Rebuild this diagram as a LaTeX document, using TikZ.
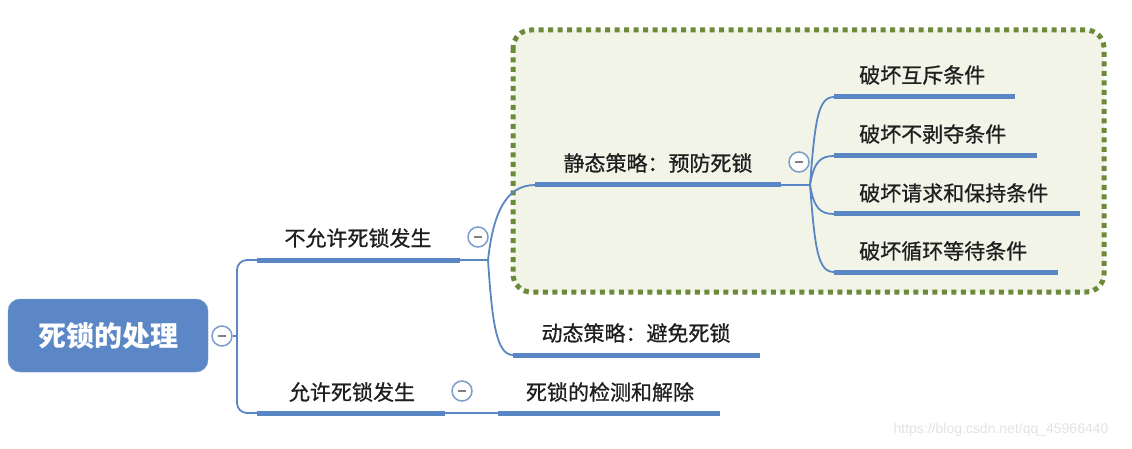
\documentclass[tikz,border=0pt]{standalone}
\usepackage{fontspec}
\setmainfont{Noto Sans CJK SC}
\newfontfamily\topicfont[FakeBold=0.8]{Noto Sans CJK SC}
\newfontfamily\urlfont{Liberation Sans}
\usetikzlibrary{calc}

\definecolor{mapblue}{HTML}{5A86C4}
\definecolor{rootblue}{HTML}{5B87C6}
\definecolor{foldblue}{HTML}{7C9CCB}
\definecolor{boxgreen}{HTML}{6B8A3A}
\definecolor{boxfill}{HTML}{F1F4E7}

\begin{document}
\begin{tikzpicture}[
        x=1pt, y=-1pt,
        every node/.style={font=\topicfont\fontsize{21}{24}\selectfont,
            text=black!88, inner sep=0pt},
        root/.style={
            fill=rootblue,
            draw=rootblue!85!white,
            rounded corners=12pt,
            minimum width=200pt,
            minimum height=73pt,
            text=white,
            font=\fontsize{28}{32}\selectfont\bfseries
        },
        bar/.style={draw=mapblue, line width=5pt},
        link/.style={draw=mapblue, line width=1.8pt},
        fold/.style={
            circle, draw=foldblue, line width=1.5pt, fill=white,
            minimum size=20pt,
            path picture={\draw[gray, line width=1.8pt]
                ($(path picture bounding box.center)+(-4,0)$) -- ++(8,0);}
        },
        area/.style={
            draw=boxgreen, fill=boxfill, line width=5pt,
            dash pattern=on 5pt off 4.5pt, rounded corners=18pt
        }
    ]

    \useasboundingbox (0,0) rectangle (1132,449);

    \draw[area] (513,30) rectangle (1104,292);

    \node[root] (R) at (108,335.5) {死锁的处理};
    \node[fold] (F0) at (222,336) {};
    \coordinate (T0) at (237,336);

    \coordinate (B1s) at (257,260);
    \coordinate (B1e) at (460,260);
    \coordinate (J1)  at (488,260);
    \coordinate (B2s) at (257,413);
    \coordinate (B2e) at (445,413);
    \coordinate (B3s) at (498,413);
    \coordinate (B3e) at (720,413);

    \coordinate (S1s) at (535,185);
    \coordinate (S1e) at (781,185);
    \coordinate (J2)  at (810,185);
    \coordinate (D1s) at (513,355);
    \coordinate (D1e) at (760,355);

    \coordinate (C1s) at (834,97);
    \coordinate (C1e) at (1015,97);
    \coordinate (C2s) at (834,156);
    \coordinate (C2e) at (1037,156);
    \coordinate (C3s) at (834,214);
    \coordinate (C3e) at (1080,214);
    \coordinate (C4s) at (834,272);
    \coordinate (C4e) at (1058,272);

    \draw[link] (F0.east) -- (T0);
    \draw[link, rounded corners=10pt] (T0) |- (B1s);
    \draw[link, rounded corners=10pt] (T0) |- (B2s);

    \draw[bar] (B1s) -- (B1e);
    \draw[link] (B1e) -- (J1);
    \draw[bar] (B2s) -- (B2e);
    \draw[link] (B2e) -- (B3s);
    \draw[bar] (B3s) -- (B3e);

    \draw[link] (J1) .. controls (493,215) and (505,185) .. (S1s);
    \draw[link] (J1) .. controls (492,320) and (496,355) .. (D1s);
    \draw[bar] (S1s) -- (S1e);
    \draw[link] (S1e) -- (J2);
    \draw[bar] (D1s) -- (D1e);

    \draw[link] (J2) .. controls (815,120) and (818,97) .. (C1s);
    \draw[link] (J2) .. controls (814,162) and (820,156) .. (C2s);
    \draw[link] (J2) .. controls (814,208) and (820,214) .. (C3s);
    \draw[link] (J2) .. controls (815,250) and (818,272) .. (C4s);
    \draw[bar] (C1s) -- (C1e);
    \draw[bar] (C2s) -- (C2e);
    \draw[bar] (C3s) -- (C3e);
    \draw[bar] (C4s) -- (C4e);

    \node (N1) at (358,238) {不允许死锁发生};
    \node[fold] (F1) at (478,237) {};
    \node (N2) at (352,392) {允许死锁发生};
    \node[fold] (F2) at (462,391) {};
    \node (N3) at (610,392) {死锁的检测和解除};

    \node (S1) at (658,163) {静态策略：预防死锁};
    \node[fold] (F3) at (799,162) {};
    \node (D1) at (636,333) {动态策略：避免死锁};

    \node[anchor=west] (C1) at (859,75)  {破坏互斥条件};
    \node[anchor=west] (C2) at (859,134) {破坏不剥夺条件};
    \node[anchor=west] (C3) at (859,193) {破坏请求和保持条件};
    \node[anchor=west] (C4) at (859,251) {破坏循环等待条件};

    \node[text=gray!22, font=\urlfont\fontsize{14}{16}\selectfont] (W)
        at (1001,430) {https://blog.csdn.net/qq\_45966440};

\end{tikzpicture}
\end{document}
